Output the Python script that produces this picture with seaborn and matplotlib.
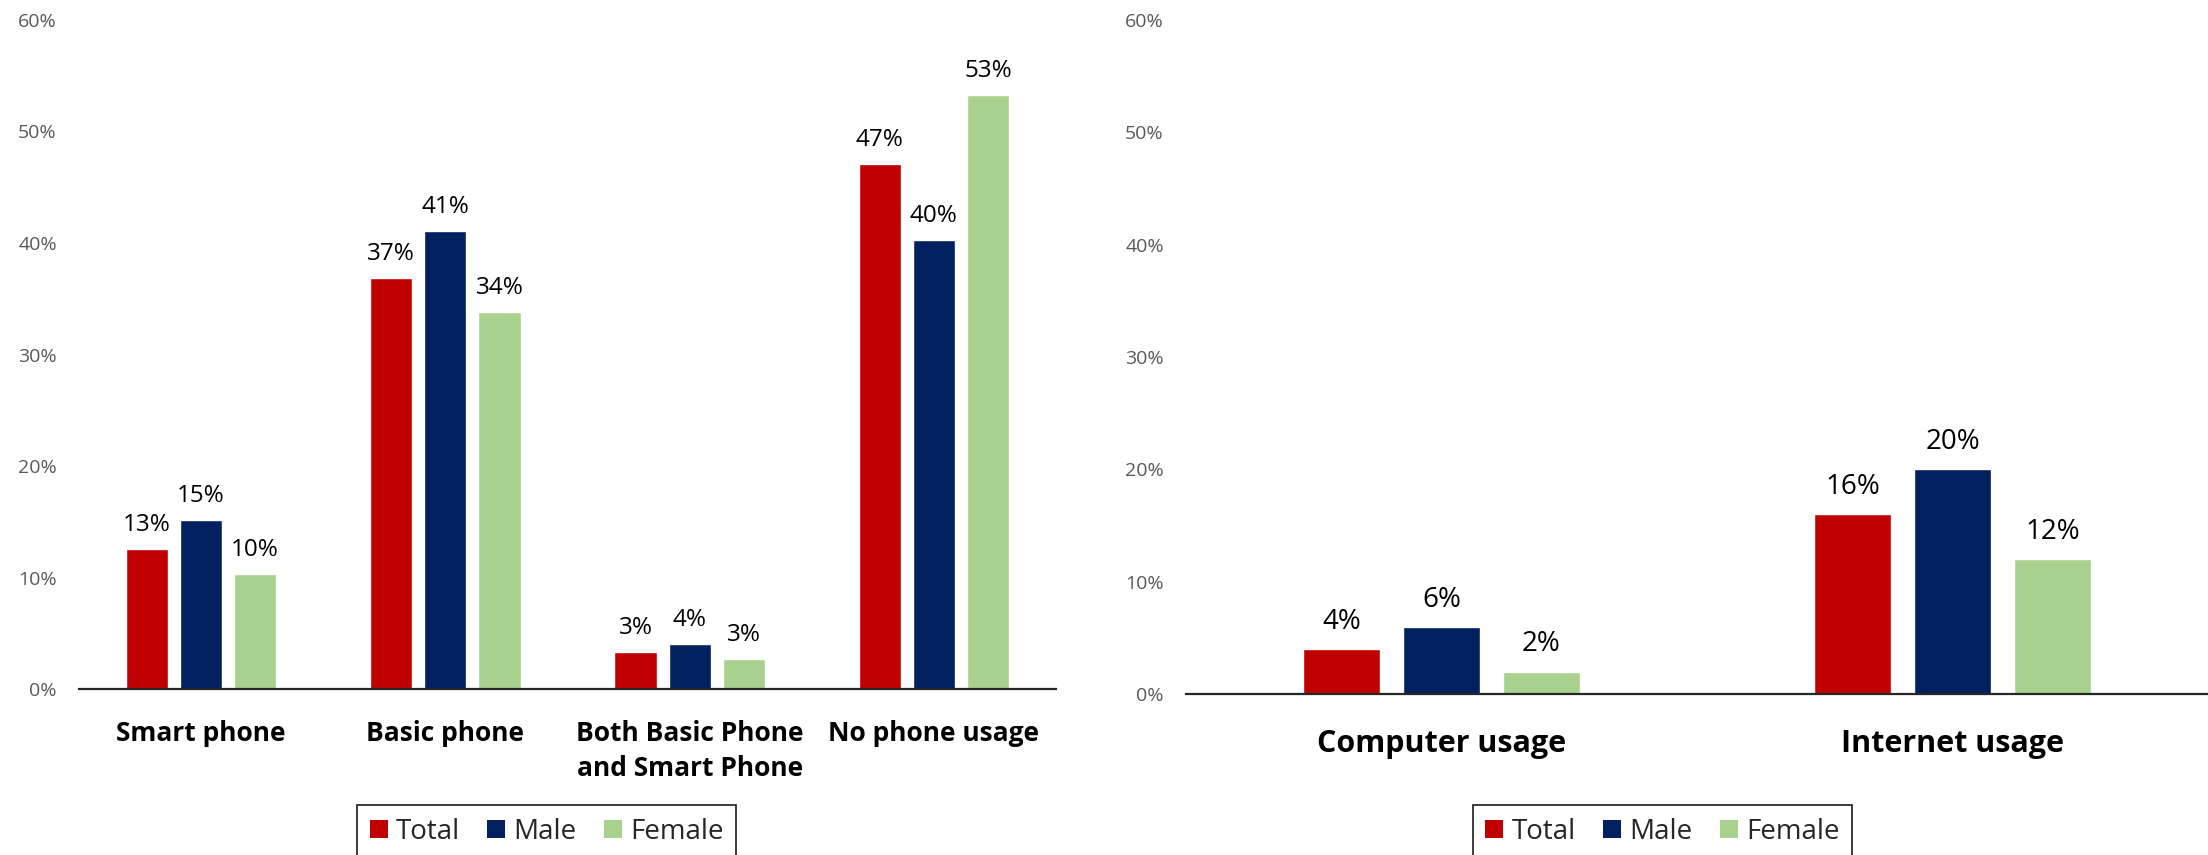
import matplotlib
matplotlib.use("Agg")
import matplotlib.pyplot as plt
import pandas as pd
import seaborn as sns
from matplotlib.patches import Patch
from matplotlib.ticker import MultipleLocator, PercentFormatter

# Series shared by both panels
groups = ["Total", "Male", "Female"]
colors = ["#C00000", "#002060", "#A9D18E"]

# Phone usage panel
phone_categories = ["Smart phone", "Basic phone", "Both Basic Phone\nand Smart Phone", "No phone usage"]
phone_total = [0.126, 0.369, 0.033, 0.471]
phone_male = [0.152, 0.411, 0.040, 0.403]
phone_female = [0.103, 0.338, 0.027, 0.533]

# Computer / internet panel
ict_categories = ["Computer usage", "Internet usage"]
ict_total = [0.04, 0.16]
ict_male = [0.06, 0.20]
ict_female = [0.02, 0.12]

y_ticks_max = 0.6


def long_frame(categories, total, male, female):
    rows = []
    for name, vals in zip(groups, [total, male, female]):
        for cat, v in zip(categories, vals):
            rows.append({"category": cat, "group": name, "value": v})
    return pd.DataFrame(rows)


sns.set_theme(style="white")
plt.rcParams["font.family"] = ["Open Sans", "DejaVu Sans"]

fig = plt.figure(figsize=(22.08, 8.55), dpi=100)
ax1 = fig.add_axes([0.03578, 0.19415, 0.44248, 0.78246])
ax2 = fig.add_axes([0.53714, 0.18830, 0.46286, 0.78830])

panels = [
    (ax1, long_frame(phone_categories, phone_total, phone_male, phone_female), 0.664, 0.22, 17.5, 19, 8.6, 22),
    (ax2, long_frame(ict_categories, ict_total, ict_male, ict_female), 0.587, 0.23, 20, 22, 9.4, 25),
]

for ax, df, width, gap, lab_size, cat_size, lab_pad, cat_pad in panels:
    sns.barplot(data=df, x="category", y="value", hue="group", hue_order=groups,
                palette=colors, saturation=1, width=width, gap=gap,
                errorbar=None, legend=False, ax=ax)
    for container in ax.containers:
        ax.bar_label(container, labels=[f"{v:.0%}" for v in container.datavalues],
                     padding=lab_pad, fontsize=lab_size, color="black")
    ax.set_ylim(0, y_ticks_max)
    ax.yaxis.set_major_locator(MultipleLocator(0.1))
    ax.yaxis.set_major_formatter(PercentFormatter(1, decimals=0))
    ax.set_xlabel("")
    ax.set_ylabel("")
    for side in ["top", "right", "left"]:
        ax.spines[side].set_visible(False)
    ax.spines["bottom"].set_color("#262626")
    ax.spines["bottom"].set_linewidth(1.6)
    ax.tick_params(axis="y", length=0, labelsize=14, labelcolor="#595959", pad=16)
    ax.tick_params(axis="x", length=0, labelsize=cat_size, labelcolor="black", pad=cat_pad)
    for t in ax.get_xticklabels():
        t.set_fontweight("bold")
        t.set_linespacing(1.4)
    ax.grid(False)

handles = [Patch(facecolor=c, edgecolor="none", label=g) for g, c in zip(groups, colors)]
for cx in [0.2475, 0.7529]:
    leg = fig.legend(handles=handles, loc="upper center", bbox_to_anchor=(cx, 1 - 805 / 855),
                     ncol=3, fontsize=20, frameon=True, fancybox=False, framealpha=1,
                     handlelength=0.65, handleheight=0.62, handletextpad=0.28,
                     columnspacing=1.0, borderpad=0.45, borderaxespad=0)
    leg.get_frame().set_edgecolor("#1a1a1a")
    leg.get_frame().set_linewidth(1.2)

fig.savefig("out.png", dpi=100)
